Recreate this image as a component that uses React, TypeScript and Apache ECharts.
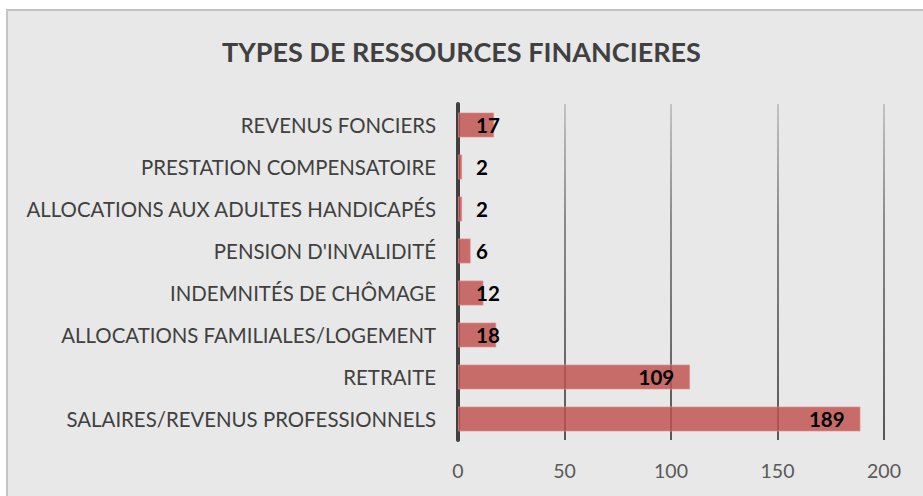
import React, { useEffect, useRef } from "react";
import * as echarts from "echarts";

const categories = [
  "REVENUS FONCIERS",
  "PRESTATION COMPENSATOIRE",
  "ALLOCATIONS AUX ADULTES HANDICAPÉS",
  "PENSION D'INVALIDITÉ",
  "INDEMNITÉS DE CHÔMAGE",
  "ALLOCATIONS FAMILIALES/LOGEMENT",
  "RETRAITE",
  "SALAIRES/REVENUS PROFESSIONNELS",
];
const values = [17, 2, 2, 6, 12, 18, 109, 189];
const xTicks = { min: 0, max: 200, interval: 50 };
const title = "TYPES DE RESSOURCES FINANCIERES";

const FONT = "Lato, 'Open Sans', sans-serif";

export default function App() {
  const ref = useRef<HTMLDivElement>(null);

  useEffect(() => {
    if (!ref.current) return;
    const chart = echarts.init(ref.current, undefined, { renderer: "svg" });
    const gridTop = 104;
    const gridBottom = 56;
    const H = 496;

    const data = values.map((v) => {
      const small = v < 30;
      return {
        value: v,
        label: small
          ? { position: [18, "50%"], align: "left", verticalAlign: "middle" }
          : { position: "insideRight", distance: 16 },
      };
    });

    chart.setOption({
      animation: false,
      backgroundColor: "#ffffff",
      textStyle: { fontFamily: FONT },
      graphic: [
        {
          type: "rect",
          z: -10,
          silent: true,
          shape: { x: 7, y: 10, width: 960, height: 520 },
          style: { fill: "#e8e8e8", stroke: "#c4c4c4", lineWidth: 2 },
        },
      ],
      title: {
        text: title,
        left: "center",
        top: 33,
        textStyle: {
          fontFamily: FONT,
          fontSize: 27,
          fontWeight: "bold",
          color: "#404040",
        },
      },
      grid: { left: 458, right: 39, top: gridTop, bottom: gridBottom },
      xAxis: {
        type: "value",
        min: xTicks.min,
        max: xTicks.max,
        interval: xTicks.interval,
        axisLine: { show: false },
        axisTick: { show: false },
        axisLabel: {
          color: "#595959",
          fontSize: 19.5,
          margin: 20,
          fontFamily: FONT,
        },
        splitLine: {
          show: true,
          lineStyle: {
            width: 1.5,
            color: new echarts.graphic.LinearGradient(
              0,
              gridTop - 2,
              0,
              H - gridBottom,
              [
                { offset: 0, color: "#b8b8b8" },
                { offset: 0.35, color: "#6a6a6a" },
                { offset: 1, color: "#262626" },
              ],
              true
            ),
          },
        },
      },
      yAxis: {
        type: "category",
        data: categories,
        inverse: true,
        axisLine: { show: true, lineStyle: { color: "#404040", width: 4 } },
        axisTick: { show: false },
        axisLabel: {
          color: "#404040",
          fontSize: 20.4,
          margin: 22,
          fontFamily: FONT,
        },
      },
      series: [
        {
          type: "bar",
          data,
          barCategoryGap: "40%",
          itemStyle: {
            color: "rgba(192,80,77,0.82)",
            borderColor: "rgba(230,150,150,0.6)",
            borderWidth: 1,
          },
          label: {
            show: true,
            color: "#000000",
            fontWeight: "bold",
            fontSize: 20.5,
            fontFamily: FONT,
          },
          z: 3,
        },
      ],
    });
    return () => chart.dispose();
  }, []);

  return (
    <div
      ref={ref}
      style={{ position: "absolute", left: 0, top: 0, width: 923, height: 496 }}
    />
  );
}
